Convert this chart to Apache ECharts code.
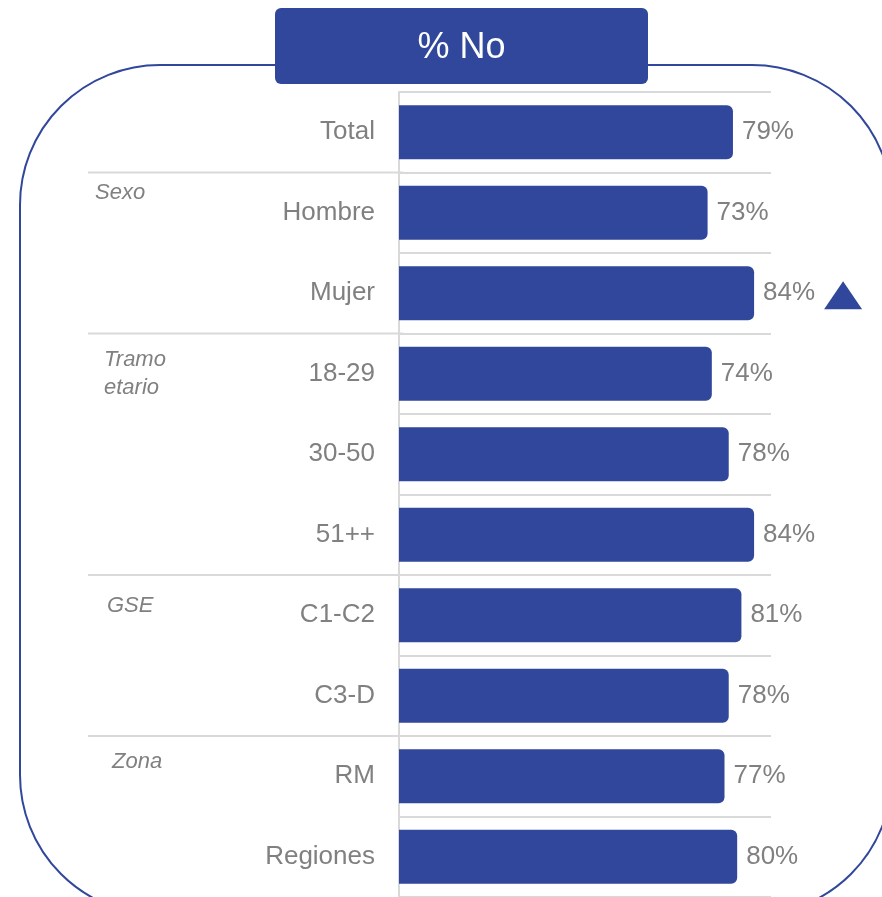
<!DOCTYPE html>
<html>
<head>
<meta charset="utf-8">
<script src="https://cdn.jsdelivr.net/npm/echarts@6/dist/echarts.min.js"></script>
<style>html,body{margin:0;padding:0;background:#fff;}#c{width:882px;height:897px;}</style>
</head>
<body>
<div id="c"></div>
<script>
var categories = ['Total','Hombre','Mujer','18-29','30-50','51++','C1-C2','C3-D','RM','Regiones'];
var values = [79,73,84,74,78,84,81,78,77,80];
var significant = [0,0,1,0,0,0,0,0,0,0];
var groupNames = ['Sexo','Tramo\netario','GSE','Zona'];
var groupStarts = [1,3,6,8];
var title = '% No';

var BLUE = '#30479b', GRAY = '#808080', LINE = '#d9d9d9', FONT = "'Liberation Sans', Arial, sans-serif";
var chart = echarts.init(document.getElementById('c'));
var gridTop = 92, gridH = 805, gridLeft = 399, gridW = 372;
var option = {
  animation: false,
  grid: {left: gridLeft, top: gridTop, width: gridW, height: gridH},
  xAxis: {type: 'value', min: 0, max: 88, show: false},
  yAxis: {
    type: 'category', data: categories, inverse: true,
    axisLine: {show: true, lineStyle: {color: LINE, width: 2}},
    axisTick: {show: false},
    axisLabel: {color: GRAY, fontSize: 26, fontFamily: FONT, margin: 24, padding: [4,0,0,0]},
    splitLine: {show: true, lineStyle: {color: LINE, width: 2}}
  },
  series: [{
    type: 'bar', data: values, barWidth: 54,
    itemStyle: {color: BLUE, borderRadius: [0,6,6,0]},
    label: {show: true, position: 'right', distance: 9, color: GRAY, fontSize: 26, fontFamily: FONT, formatter: '{c}%', padding: [4,0,0,0]},
    z: 3
  }, {
    type: 'scatter', clip: false,
    data: values.map(function(v,i){ return significant[i] ? [v, categories[i]] : null; }).filter(Boolean),
    symbol: 'triangle', symbolSize: [38, 28], symbolOffset: [89, 2],
    itemStyle: {color: BLUE, opacity: 1}, z: 4
  }]
};
chart.setOption(option);

var rowH = gridH / categories.length;
var graphics = [
  {type: 'rect', shape: {x: 20, y: 65, width: 872, height: 850, r: 140}, style: {fill: 'none', stroke: BLUE, lineWidth: 2}, z: 1},
  {type: 'rect', shape: {x: 275, y: 8, width: 373, height: 76, r: 6}, style: {fill: BLUE}, z: 10},
  {type: 'text', x: 461.5, y: 48, style: {text: title, fill: '#fff', fontSize: 36, fontFamily: FONT, align: 'center', verticalAlign: 'middle'}, z: 11}
];
var labelX = [95, 104, 107, 112];
var labelDy = [6, 12, 17, 12];
groupStarts.forEach(function(idx, k){
  var cy = chart.convertToPixel({yAxisIndex: 0}, categories[idx]);
  var by = cy - rowH / 2;
  graphics.push({type: 'line', shape: {x1: 88, y1: by, x2: gridLeft + 4, y2: by}, style: {stroke: LINE, lineWidth: 2}, z: 2});
  graphics.push({type: 'text', x: labelX[k], y: by + labelDy[k], style: {text: groupNames[k], fill: GRAY, fontSize: 22, fontStyle: 'italic', fontFamily: FONT, lineHeight: 28, align: 'left', verticalAlign: 'top'}, z: 2});
});
chart.setOption({graphic: graphics});
</script>
</body>
</html>
